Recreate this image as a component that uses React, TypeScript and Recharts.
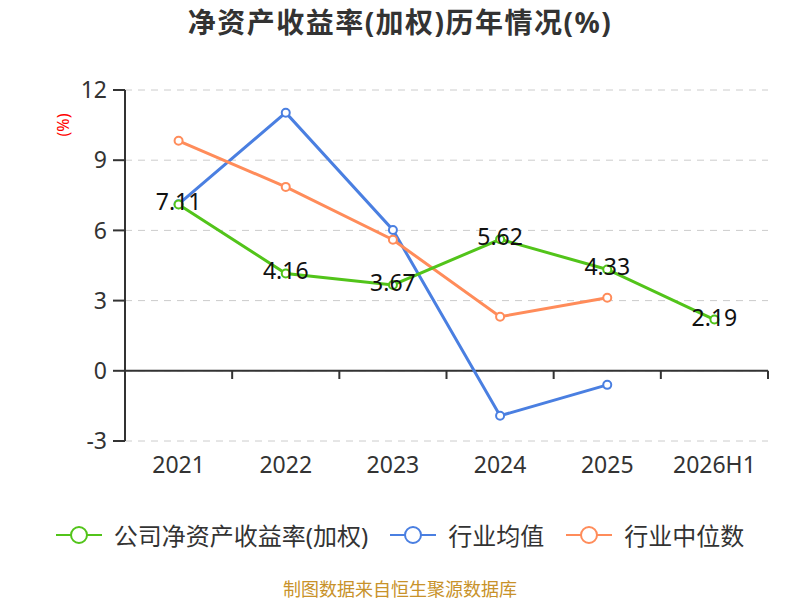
import { LineChart, Line, XAxis, YAxis, CartesianGrid, ReferenceLine, LabelList } from 'recharts';

const years = ['2021', '2022', '2023', '2024', '2025', '2026H1'];
const companyRoe = [7.11, 4.16, 3.67, 5.62, 4.33, 2.19];
const industryAvg = [7.12, 11.03, 6.02, -1.92, -0.6, null];
const industryMedian = [9.83, 7.86, 5.6, 2.31, 3.12, null];
const yTicks = [-3, 0, 3, 6, 9, 12];

const GREEN = '#52C41A';
const BLUE = '#4A7FE1';
const ORANGE = '#FF8C5A';
const FONT = '"Noto Sans", "Noto Sans CJK SC", sans-serif';

// numeric x so the tick marks on the zero line can sit between categories
const data = years.map((y, i) => ({
  x: i + 0.5,
  year: y,
  company: companyRoe[i],
  avg: industryAvg[i],
  median: industryMedian[i],
}));
const xCenters = data.map(d => d.x);
const boundaries = years.map((_, i) => i + 1);

const legendItems = [
  { name: '公司净资产收益率(加权)', color: GREEN },
  { name: '行业均值', color: BLUE },
  { name: '行业中位数', color: ORANGE },
];

const ValueLabel = (props: any) => {
  const { x, y, value } = props;
  return (
    <text x={x} y={y - 3} textAnchor="middle" dominantBaseline="central" fill="#111" fontSize={23} fontFamily={FONT}>
      {value}
    </text>
  );
};

export default function App() {
  return (
    <div style={{ position: 'absolute', left: 0, top: 0, width: 800, height: 600, background: '#fff', fontFamily: FONT, overflow: 'hidden' }}>
      <div style={{ position: 'absolute', top: 1, left: 0, width: 800, textAlign: 'center', fontSize: 28, letterSpacing: 1.5, fontWeight: 700, color: '#333' }}>
        净资产收益率(加权)历年情况(%)
      </div>
      <div style={{ position: 'absolute', left: 63, top: 125, transform: 'translate(-50%, -50%) rotate(-90deg)', color: '#f00', fontSize: 16 }}>
        (%)
      </div>
      <LineChart width={800} height={600} data={data} margin={{ top: 90, right: 32, left: 65, bottom: 119 }}>
        <CartesianGrid vertical={false} stroke="#ccc" strokeDasharray="7 6" />
        <XAxis
          dataKey="x"
          type="number"
          domain={[0, 6]}
          ticks={xCenters}
          tickFormatter={(v: number) => years[Math.floor(v)]}
          axisLine={false}
          tickLine={false}
          tickMargin={10}
          height={40}
          tick={{ fill: '#333', fontSize: 23, fontFamily: FONT }}
          interval={0}
        />
        <YAxis
          domain={[-3, 12]}
          ticks={yTicks}
          width={60}
          axisLine={{ stroke: '#333', strokeWidth: 2 }}
          tickLine={{ stroke: '#333', strokeWidth: 2 }}
          tickSize={12}
          tickMargin={6}
          tick={{ fill: '#333', fontSize: 23, fontFamily: FONT }}
          interval={0}
        />
        <ReferenceLine y={0} stroke="#333" strokeWidth={2} />
        {boundaries.map(b => (
          <ReferenceLine
            key={b}
            segment={[{ x: b, y: 0 }, { x: b, y: -0.35 }]}
            stroke="#333"
            strokeWidth={2}
          />
        ))}
        <Line
          dataKey="avg"
          stroke={BLUE}
          strokeWidth={3}
          dot={{ r: 4, fill: '#fff', stroke: BLUE, strokeWidth: 2 }}
          isAnimationActive={false}
        />
        <Line
          dataKey="median"
          stroke={ORANGE}
          strokeWidth={3}
          dot={{ r: 4, fill: '#fff', stroke: ORANGE, strokeWidth: 2 }}
          isAnimationActive={false}
        />
        <Line
          dataKey="company"
          stroke={GREEN}
          strokeWidth={3}
          dot={{ r: 4, fill: '#fff', stroke: GREEN, strokeWidth: 2 }}
          isAnimationActive={false}
        >
          <LabelList dataKey="company" content={ValueLabel} />
        </Line>
      </LineChart>
      <div style={{ position: 'absolute', top: 517, left: 0, width: 800, display: 'flex', justifyContent: 'center', gap: 22, alignItems: 'center' }}>
        {legendItems.map(it => (
          <div key={it.name} style={{ display: 'flex', alignItems: 'center', gap: 12 }}>
            <svg width={46} height={20}>
              <line x1={0} y1={10} x2={46} y2={10} stroke={it.color} strokeWidth={2} />
              <circle cx={23} cy={10} r={8} fill="#fff" stroke={it.color} strokeWidth={2} />
            </svg>
            <span style={{ fontSize: 24, color: '#333' }}>{it.name}</span>
          </div>
        ))}
      </div>
      <div style={{ position: 'absolute', top: 579, left: 0, width: 800, textAlign: 'center', fontSize: 18, lineHeight: '20px', color: '#C8922A' }}>
        制图数据来自恒生聚源数据库
      </div>
    </div>
  );
}
